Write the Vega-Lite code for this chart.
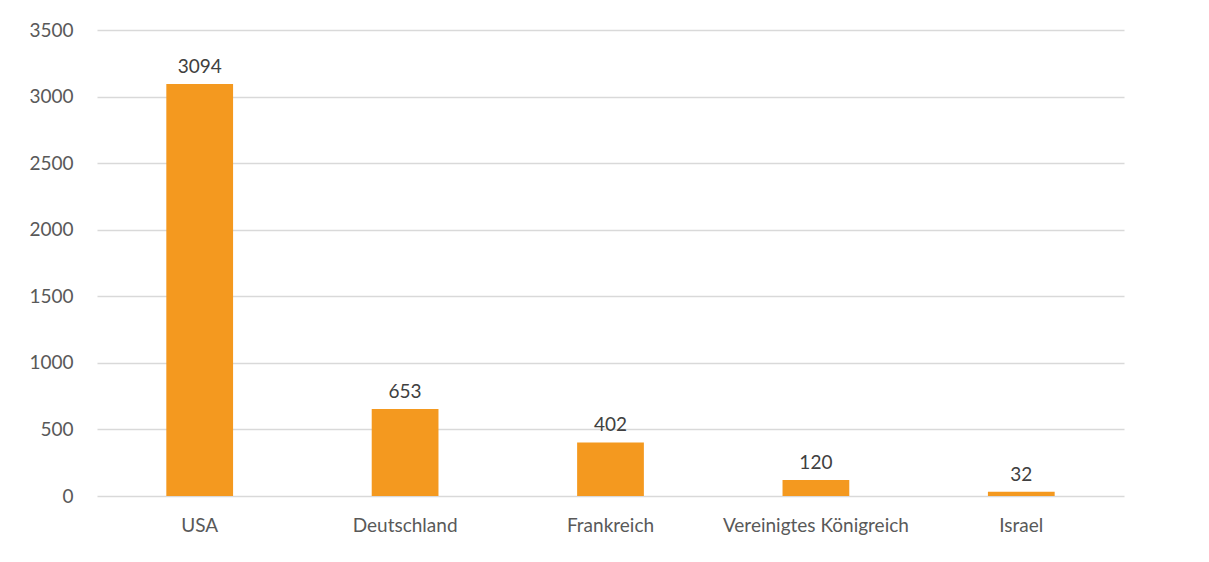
{
  "$schema": "https://vega.github.io/schema/vega-lite/v6.json",
  "width": 1027,
  "height": 466,
  "autosize": {"type": "none"},
  "padding": {"left": 97, "top": 30, "right": 85, "bottom": 66},
  "background": "white",
  "data": {
    "values": [
      {"land": "USA", "anzahl": 3094},
      {"land": "Deutschland", "anzahl": 653},
      {"land": "Frankreich", "anzahl": 402},
      {"land": "Vereinigtes Königreich", "anzahl": 120},
      {"land": "Israel", "anzahl": 32}
    ]
  },
  "encoding": {
    "x": {
      "field": "land",
      "type": "nominal",
      "sort": null,
      "scale": {"paddingInner": 0, "paddingOuter": 0},
      "axis": {
        "title": null,
        "labelAngle": 0,
        "labelLimit": 400,
        "ticks": false,
        "domain": false,
        "labelPadding": 20,
        "labelFont": "Lato",
        "labelFontSize": 19,
        "labelColor": "#595959"
      }
    },
    "y": {
      "field": "anzahl",
      "type": "quantitative",
      "scale": {"domain": [0, 3500]},
      "axis": {
        "title": null,
        "values": [0, 500, 1000, 1500, 2000, 2500, 3000, 3500],
        "format": "d",
        "ticks": false,
        "domain": false,
        "labelPadding": 24,
        "labelFont": "Lato",
        "labelFontSize": 19,
        "labelColor": "#595959",
        "gridColor": "#d9d9d9",
        "gridWidth": 1.3
      }
    }
  },
  "layer": [
    {
      "mark": {"type": "bar", "color": "#F4991F", "width": {"band": 0.325}}
    },
    {
      "mark": {"type": "text", "baseline": "bottom", "dy": -7, "font": "Lato", "fontSize": 19, "color": "#404040"},
      "encoding": {"text": {"field": "anzahl", "type": "quantitative", "format": "d"}}
    }
  ],
  "config": {"view": {"stroke": null}}
}
